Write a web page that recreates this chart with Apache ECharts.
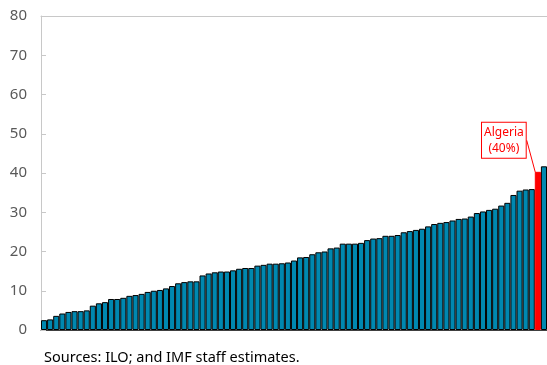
<!DOCTYPE html>
<html>
<head>
<meta charset="utf-8">
<script src="https://cdn.jsdelivr.net/npm/echarts@6/dist/echarts.min.js"></script>
<style>html,body{margin:0;padding:0;background:#fff}#c{width:547px;height:365px}</style>
</head>
<body>
<div id="c"></div>
<script>
// Values (percent), sorted ascending; Algeria highlighted
const values = [2.5,2.7,3.6,4.2,4.6,4.8,4.8,5.0,6.2,6.8,
  7.1,7.9,7.9,8.2,8.7,8.9,9.2,9.7,10.0,10.2,
  10.6,11.2,11.9,12.2,12.4,12.4,13.9,14.4,14.7,14.9,
  14.9,15.2,15.6,15.8,15.8,16.4,16.6,16.9,16.9,17.0,
  17.2,17.7,18.5,18.6,19.3,19.8,20.0,20.8,21.0,22.0,
  22.0,22.0,22.2,22.9,23.3,23.4,24.0,24.0,24.2,24.9,
  25.2,25.5,25.8,26.4,27.0,27.3,27.5,27.9,28.3,28.4,
  28.9,29.8,30.2,30.6,30.9,31.7,32.4,34.4,35.5,35.8,
  35.9,40.3,41.7];
const highlightName = 'Algeria';
const highlightIndex = 81;
const highlightLabel = 'Algeria\n(40%)';
const categories = values.map((v, i) => i === highlightIndex ? highlightName : 'Country ' + (i + 1));
const yTicks = [0,10,20,30,40,50,60,70,80];
const sourceText = 'Sources: ILO; and IMF staff estimates.';

const font = '"Noto Sans", "Open Sans", sans-serif';
const chart = echarts.init(document.getElementById('c'), null, {renderer: 'canvas'});
const seriesData = values.map((v, i) => {
  if (i === highlightIndex) {
    return {
      value: v,
      itemStyle: {color: '#ff0000', borderColor: '#ff0000'},
      label: {
        show: true, position: 'top', formatter: highlightLabel,
        color: '#ff0000', fontSize: 12, lineHeight: 16, fontFamily: font,
        backgroundColor: '#fff', borderColor: '#ff0000', borderWidth: 1,
        padding: [2, 2, 1, 2]
      },
      labelLine: {show: true, lineStyle: {color: '#ff0000', width: 1}}
    };
  }
  return v;
});
chart.setOption({
  animation: false,
  grid: {left: 41, right: 0, top: 16, bottom: 35},
  xAxis: [{
    type: 'category', data: categories,
    axisLine: {show: true, lineStyle: {color: '#404040', width: 1}},
    axisTick: {show: false}, axisLabel: {show: false}
  }, {
    type: 'category', data: categories, position: 'top',
    axisLine: {show: true, lineStyle: {color: '#c8c8c8', width: 1}},
    axisTick: {show: false}, axisLabel: {show: false}
  }],
  yAxis: {
    type: 'value', min: yTicks[0], max: yTicks[yTicks.length - 1], interval: 10,
    axisLine: {show: true, lineStyle: {color: '#c8c8c8'}},
    axisTick: {show: true, inside: true, length: 5, lineStyle: {color: '#c8c8c8'}},
    axisLabel: {color: '#595959', fontSize: 15, fontFamily: font, margin: 14},
    splitLine: {show: false}
  },
  series: [{
    type: 'bar', data: seriesData, barCategoryGap: 0,
    itemStyle: {color: '#0088b0', borderColor: '#000', borderWidth: 1},
    labelLayout: function (p) {
      if (p.dataIndex === highlightIndex) return {dx: -34, dy: -9};
    }
  }],
  graphic: [{
    type: 'text', left: 44, top: 350,
    style: {text: sourceText, fill: '#000', fontSize: 14.5, fontFamily: font}
  }]
});
</script>
</body>
</html>
